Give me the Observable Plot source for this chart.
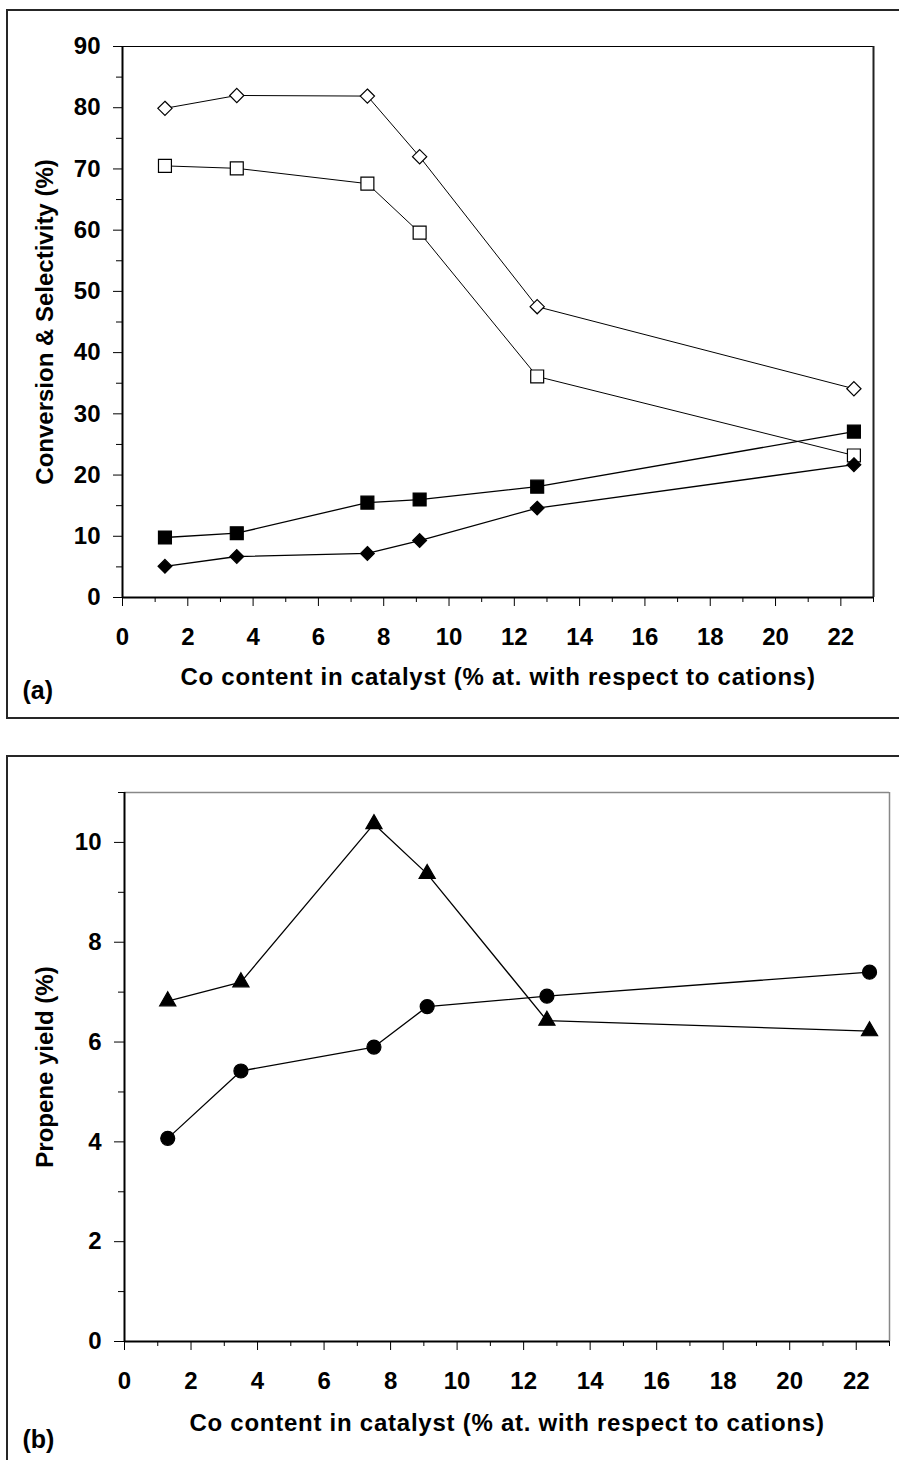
<!DOCTYPE html>
<html><head><meta charset="utf-8">
<script src="https://cdn.jsdelivr.net/npm/d3@7"></script>
<script src="https://cdn.jsdelivr.net/npm/@observablehq/plot@0.6"></script>
<style>
html,body{margin:0;padding:0;background:#fff;overflow:hidden;}
#page{position:relative;width:899px;height:1460px;overflow:hidden;background:#fff;}
.box{position:absolute;border:2px solid #262626;box-sizing:border-box;pointer-events:none;}
#boxA{left:6px;top:9px;width:900px;height:710px;}
#boxB{left:6px;top:755px;width:900px;height:720px;}
#a,#b{position:absolute;left:0;}
#a{top:0px}
#b{top:740px}
</style></head><body>
<div id="page"><div id="a"></div><div id="b"></div><div class="box" id="boxA"></div><div class="box" id="boxB"></div></div>
<script>
// ---- data ----
const coContent = [1.3, 3.5, 7.5, 9.1, 12.7, 22.4];
// panel (a)
const openDiamond  = [79.9, 82.0, 81.9, 72.0, 47.5, 34.1];
const openSquare   = [70.5, 70.1, 67.6, 59.6, 36.1, 23.2];
const filledSquare = [9.8, 10.5, 15.5, 16.0, 18.1, 27.1];
const filledDiamond= [5.1, 6.7, 7.2, 9.3, 14.6, 21.7];
// panel (b)
const triangleYield = [6.82, 7.2, 10.37, 9.37, 6.43, 6.22];
const circleYield   = [4.07, 5.42, 5.9, 6.71, 6.92, 7.4];
// ticks and labels
const xMajor = [0, 2, 4, 6, 8, 10, 12, 14, 16, 18, 20, 22];
const xMinor = [1, 3, 5, 7, 9, 11, 13, 15, 17, 19, 21, 23];
const yMajorA = [0, 10, 20, 30, 40, 50, 60, 70, 80, 90];
const yMinorA = [5, 15, 25, 35, 45, 55, 65, 75, 85];
const yMajorB = [0, 2, 4, 6, 8, 10];
const yMinorB = [1, 3, 5, 7, 9, 11];
const xTitle = "Co content in catalyst (% at. with respect to cations)";
const yTitleA = "Conversion & Selectivity (%)";
const yTitleB = "Propene yield (%)";
const panelA = "(a)";
const panelB = "(b)";

const rows = (vals) => coContent.map((x, i) => ({x, y: vals[i]}));
const FONT = "Arial, 'Liberation Sans', Helvetica, sans-serif";
const style = {fontFamily: FONT, fontSize: "24px", fontWeight: "bold", color: "black", background: "transparent", overflow: "visible"};
const TICK_FS = 24, TITLE_FS = 24;

function series(vals, symbol, r, filled) {
  const d = rows(vals);
  return [
    Plot.line(d, {x: "x", y: "y", stroke: "black", strokeWidth: filled ? 1.3 : 1}),
    Plot.dot(d, {x: "x", y: "y", symbol, r, fill: filled ? "black" : "white", stroke: "black", strokeWidth: 1.2})
  ];
}

function axes(yMajor, yMinor, yTick) {
  return [
    Plot.axisY({ticks: yMajor, tickSize: yTick, tickPadding: 13, label: null, fontSize: TICK_FS, tickFormat: d => String(d)}),
    Plot.axisY({ticks: yMinor, tickSize: 6, label: null, tickFormat: () => ""}),
    Plot.axisX({ticks: xMajor, tickSize: 9, tickPadding: 21, label: null, fontSize: TICK_FS, tickFormat: d => String(d)}),
    Plot.axisX({ticks: xMinor, tickSize: 5, label: null, tickFormat: () => ""})
  ];
}

function spaceTitle(chart) {
  d3.select(chart).selectAll("text").filter(function () { return this.textContent === xTitle; })
    .attr("letter-spacing", "0.75px");
}

const chartA = Plot.plot({
  width: 899, height: 720,
  marginLeft: 122, marginRight: 26, marginTop: 46, marginBottom: 123,
  x: {domain: [0, 23], label: null},
  y: {domain: [0, 90], label: null},
  style,
  marks: [
    Plot.ruleY([90], {stroke: "black", strokeWidth: 1.2}),
    Plot.ruleX([23], {stroke: "#222", strokeWidth: 2}),
    ...axes(yMajorA, yMinorA, 9),
    Plot.ruleX([0], {stroke: "black", strokeWidth: 2}),
    Plot.ruleY([0], {stroke: "black", strokeWidth: 2}),
    ...series(openDiamond, "diamond2", 6.4, false),
    ...series(openSquare, "square", 7.3, false),
    ...series(filledSquare, "square", 7.3, true),
    ...series(filledDiamond, "diamond2", 6.2, true),
    Plot.text([xTitle], {text: d => d, frameAnchor: "bottom", dy: 87, fontSize: TITLE_FS}),
    Plot.text([yTitleA], {text: d => d, frameAnchor: "left", textAnchor: "middle", dx: -77, dy: 0, rotate: -90, fontSize: TITLE_FS}),
    Plot.text([panelA], {text: d => d, frameAnchor: "bottom-left", textAnchor: "start", dx: -100, dy: 101, fontSize: 25})
  ]
});
spaceTitle(chartA);
document.getElementById("a").append(chartA);

const chartB = Plot.plot({
  width: 899, height: 720,
  marginLeft: 124, marginRight: 10, marginTop: 52, marginBottom: 119,
  x: {domain: [0, 23], label: null},
  y: {domain: [0, 11], label: null},
  style,
  marks: [
    Plot.ruleY([11], {stroke: "#888", strokeWidth: 1.5}),
    Plot.ruleX([23], {stroke: "#888", strokeWidth: 1.5}),
    ...axes(yMajorB, yMinorB, 10),
    Plot.ruleX([0], {stroke: "black", strokeWidth: 2}),
    Plot.ruleY([0], {stroke: "black", strokeWidth: 2}),
    ...series(triangleYield, "triangle", 6, true),
    ...series(circleYield, "circle", 7, true),
    Plot.text([xTitle], {text: d => d, frameAnchor: "bottom", dy: 89, fontSize: TITLE_FS}),
    Plot.text([yTitleB], {text: d => d, frameAnchor: "left", textAnchor: "middle", dx: -79, dy: 0, rotate: -90, fontSize: TITLE_FS}),
    Plot.text([panelB], {text: d => d, frameAnchor: "bottom-left", textAnchor: "start", dx: -102, dy: 106, fontSize: 25})
  ]
});
spaceTitle(chartB);
document.getElementById("b").append(chartB);
</script>
</body></html>
